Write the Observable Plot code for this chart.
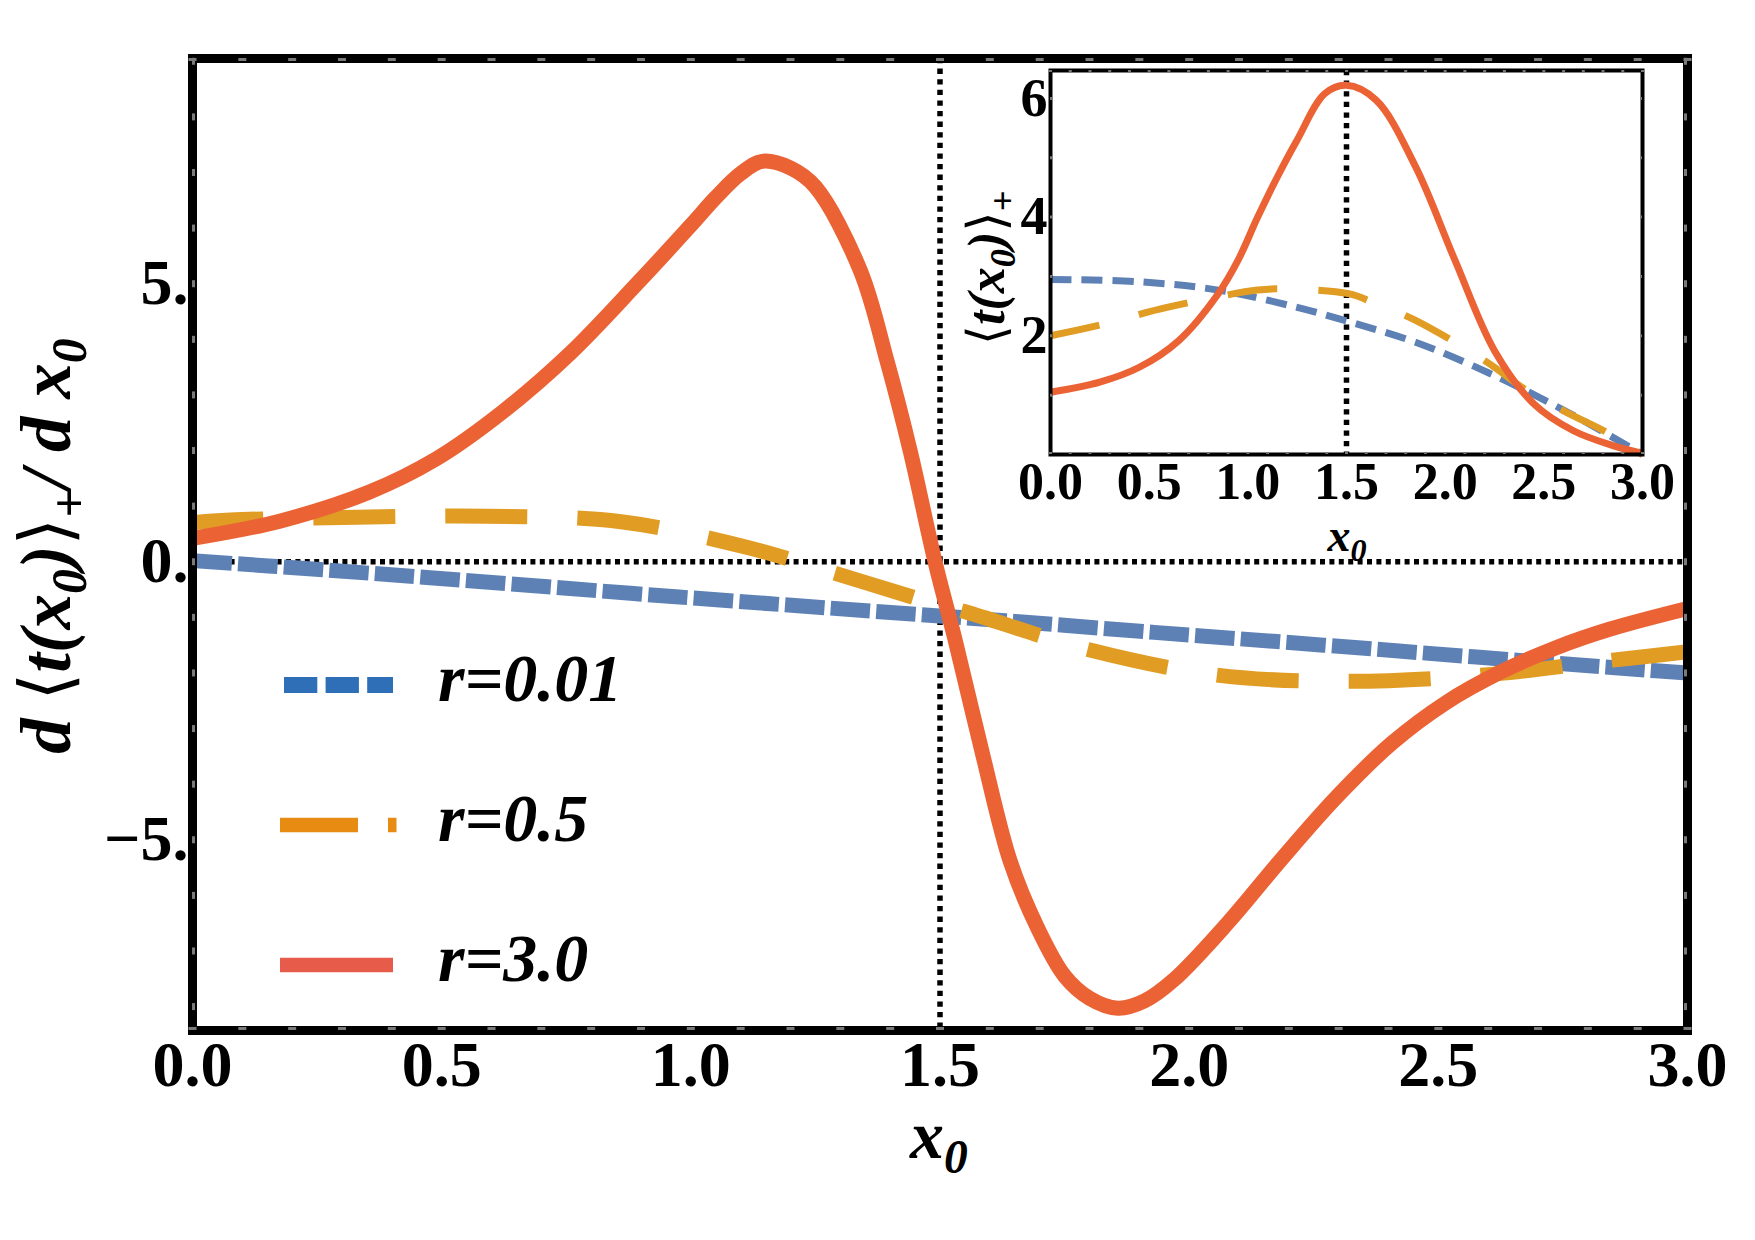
<!DOCTYPE html>
<html>
<head>
<meta charset="utf-8">
<script src="https://cdn.jsdelivr.net/npm/d3@7"></script>
<script src="https://cdn.jsdelivr.net/npm/@observablehq/plot@0.6"></script>
<style>
  html, body { margin: 0; padding: 0; background: #fff; }
  #wrap { position: relative; width: 1755px; height: 1240px; overflow: hidden; }
  #wrap svg { position: absolute; overflow: visible; }
</style>
</head>
<body>
<div id="wrap"></div>
<script>
// ---------- DATA ----------
const seriesNames = ["r=0.01", "r=0.5", "r=3.0"];
const xTicks = [0, 0.5, 1, 1.5, 2, 2.5, 3];
const yTicks = [-5, 0, 5];
const insetYTicks = [2, 4, 6];
const markerX = [1.5];
const zeroY = [0];

// main panel: d<t(x0)>+/dx0
const mainBlueX = [0, 0.27, 0.54, 0.97, 1.46, 1.63, 1.93, 2.27, 2.57, 2.92, 3.0];
const mainBlueY = [0.02, -0.15, -0.33, -0.63, -0.95, -1.06, -1.27, -1.50, -1.71, -1.95, -2.0];

const mainOrangeX = [0, 0.076, 0.33, 0.59, 0.86, 1.116, 1.29, 1.466, 1.551, 1.797, 2.056, 2.322, 2.586, 2.85, 3.0];
const mainOrangeY = [0.70, 0.75, 0.80, 0.82, 0.72, 0.25, -0.21, -0.69, -0.90, -1.58, -2.04, -2.15, -2.04, -1.77, -1.62];

const mainRedX = [0, 0.175, 0.354, 0.489, 0.623, 0.758, 0.892, 1.0, 1.05, 1.10, 1.143, 1.20, 1.25, 1.34, 1.394, 1.44, 1.49,
  1.531, 1.586, 1.641, 1.695, 1.75, 1.80, 1.857, 1.91, 1.969, 2.078, 2.188, 2.297, 2.407, 2.516, 2.626, 2.735, 2.845, 3.0];
const mainRedY = [0.42, 0.73, 1.25, 1.85, 2.70, 3.75, 5.00, 6.05, 6.55, 6.98, 7.20, 7.08, 6.74, 5.24, 3.60, 2.00, 0.0,
  -1.43, -3.48, -5.39, -6.57, -7.45, -7.85, -8.03, -7.90, -7.52, -6.49, -5.32, -4.22, -3.26, -2.53, -1.98, -1.55, -1.21, -0.84];

// inset: <t(x0)>+
const insetBlueX = [0, 0.45, 0.85, 1.25, 1.50, 1.85, 2.25, 2.65, 3.0];
const insetBlueY = [2.95, 2.91, 2.77, 2.48, 2.25, 1.89, 1.33, 0.66, 0.0];

const insetOrangeX = [0, 0.25, 0.59, 1.05, 1.18, 1.51, 1.65, 1.85, 2.21, 2.39, 2.615, 2.815, 3.0];
const insetOrangeY = [2.0, 2.18, 2.48, 2.77, 2.79, 2.71, 2.54, 2.26, 1.56, 1.13, 0.71, 0.38, 0.0];

const insetRedX = [0, 0.25, 0.45, 0.65, 0.85, 0.95, 1.05, 1.15, 1.25, 1.39, 1.50, 1.65, 1.85, 2.05, 2.25, 2.45, 2.65, 2.85, 3.0];
const insetRedY = [1.05, 1.22, 1.47, 1.92, 2.71, 3.27, 4.0, 4.68, 5.3, 6.08, 6.22, 5.97, 4.85, 3.27, 1.75, 0.85, 0.40, 0.15, 0.02];

// ---------- STYLE ----------
const lineColors = ["#5E81B5", "#E19C24", "#EB6235"];
const legendColors = ["#2F6FB7", "#E88B12", "#E65B4A"];
const FONT = "Liberation Serif, Times New Roman, serif";
const BRACKET_FONT = "DejaVu Serif, DejaVu Sans, serif";

const rows = (xs, ys) => xs.map((x, i) => ({x, y: ys[i]}));

const W = 1755, H = 1240;
const mL = 192, mR = 68, mT = 58, mB = 210;
const innerW = W - mL - mR, innerH = H - mT - mB;

const xMinor = d3.range(0, 3.0001, 0.1).map(d => +d.toFixed(2));
const yMinor = d3.range(-8, 9.0001, 1);

const lineOpts = {x: "x", y: "y", curve: "catmull-rom", strokeLinecap: "butt", strokeLinejoin: "round"};

const mainPlot = Plot.plot({
  width: W, height: H,
  marginLeft: mL, marginRight: mR, marginTop: mT, marginBottom: mB,
  x: {domain: [0, 3]},
  y: {domain: [-8.43, 9.05]},
  style: {background: "transparent", fontFamily: FONT, color: "black"},
  marks: [
    Plot.ruleY(zeroY, {stroke: "black", strokeWidth: 5.5, strokeDasharray: "5,4.4"}),
    Plot.ruleX(markerX, {stroke: "black", strokeWidth: 5.5, strokeDasharray: "5.3,5.3"}),
    Plot.line(rows(mainBlueX, mainBlueY), {...lineOpts, stroke: lineColors[0], strokeWidth: 15, strokeDasharray: "39.5,6.2"}),
    Plot.line(rows(mainOrangeX, mainOrangeY), {...lineOpts, stroke: lineColors[1], strokeWidth: 15, strokeDasharray: "82,50", strokeDashoffset: 11}),
    Plot.line(rows(mainRedX, mainRedY), {...lineOpts, stroke: lineColors[2], strokeWidth: 15}),
    Plot.frame({stroke: "black", strokeWidth: 9}),
    // frame ticks (gray, inside the thick frame)
    Plot.ruleX(xMinor, {stroke: "#7a7a7a", strokeWidth: 8, insetTop: innerH - 3}),
    Plot.ruleX(xMinor, {stroke: "#7a7a7a", strokeWidth: 8, insetBottom: innerH - 3}),
    Plot.ruleY(yMinor, {stroke: "#7a7a7a", strokeWidth: 7, insetRight: innerW - 3}),
    Plot.ruleY(yMinor, {stroke: "#7a7a7a", strokeWidth: 7, insetLeft: innerW - 3}),
    Plot.axisX(xTicks, {anchor: "bottom", tickSize: 0, tickPadding: 10, tickFormat: d3.format(".1f"),
      fontSize: 64, fontWeight: "bold", fontFamily: FONT, fill: "black", label: null}),
    Plot.axisY(yTicks, {anchor: "left", tickSize: 0, tickPadding: 4,
      tickFormat: d => (d < 0 ? "\u2212" : "") + Math.abs(d) + ".",
      fontSize: 64, fontWeight: "bold", fontFamily: FONT, fill: "black", label: null})
  ]
});

// inset
const IL = 930, IT = 40, IW = 780, IH = 540;
const imL = 120, imR = 68, imT = 30, imB = 126;
const iInnerW = IW - imL - imR, iInnerH = IH - imT - imB;
const yInsetMinor = [1, 2, 3, 4, 5, 6];

const insetPlot = Plot.plot({
  width: IW, height: IH,
  marginLeft: imL, marginRight: imR, marginTop: imT, marginBottom: imB,
  x: {domain: [0, 3]},
  y: {domain: [0, 6.47]},
  style: {background: "transparent", fontFamily: FONT, color: "black"},
  marks: [
    Plot.frame({fill: "white", stroke: "none"}),
    Plot.ruleX(markerX, {stroke: "black", strokeWidth: 5.5, strokeDasharray: "5.3,5.3"}),
    Plot.line(rows(insetBlueX, insetBlueY), {...lineOpts, stroke: lineColors[0], strokeWidth: 7, strokeDasharray: "21,10"}),
    Plot.line(rows(insetOrangeX, insetOrangeY), {...lineOpts, stroke: lineColors[1], strokeWidth: 7, strokeDasharray: "50,41"}),
    Plot.line(rows(insetRedX, insetRedY), {...lineOpts, stroke: lineColors[2], strokeWidth: 7}),
    Plot.frame({stroke: "black", strokeWidth: 4}),
    Plot.ruleX(xMinor, {stroke: "#777", strokeWidth: 3, insetTop: iInnerH - 2}),
    Plot.ruleX(xMinor, {stroke: "#777", strokeWidth: 3, insetBottom: iInnerH - 2}),
    Plot.ruleY(yInsetMinor, {stroke: "#777", strokeWidth: 3, insetRight: iInnerW - 2}),
    Plot.ruleY(yInsetMinor, {stroke: "#777", strokeWidth: 3, insetLeft: iInnerW - 2}),
    Plot.axisX(xTicks, {anchor: "bottom", tickSize: 0, tickPadding: 8, tickFormat: d3.format(".1f"),
      fontSize: 52, fontWeight: "bold", fontFamily: FONT, fill: "black", label: null}),
    Plot.axisY(insetYTicks, {anchor: "left", tickSize: 0, tickPadding: 3, tickFormat: d => String(d),
      fontSize: 54, fontWeight: "bold", fontFamily: FONT, fill: "black", label: null})
  ]
});

const wrap = document.getElementById("wrap");
mainPlot.style.left = "0px"; mainPlot.style.top = "0px";
insetPlot.style.left = IL + "px"; insetPlot.style.top = IT + "px";
wrap.appendChild(mainPlot);
wrap.appendChild(insetPlot);

// ---------- LABELS ----------
// parts: [text, isSub, isBracket]
function richText(sel, parts, size) {
  let prevSub = false;
  parts.forEach(([t, sub, br]) => {
    const ts = sel.append("tspan").text(t);
    if (sub) { ts.attr("font-size", size * 0.7).attr("dy", prevSub ? 0 : size * 0.22); }
    else if (prevSub) { ts.attr("dy", -size * 0.22); }
    if (br) { ts.attr("font-style", "normal").attr("font-family", BRACKET_FONT).attr("font-weight", "normal"); }
    prevSub = sub;
  });
}
function label(parent, attrs, parts, size) {
  const t = parent.append("text")
    .attr("text-anchor", "middle")
    .attr("font-family", FONT).attr("font-weight", "bold").attr("font-style", "italic")
    .attr("font-size", size).attr("fill", "black");
  Object.entries(attrs).forEach(([k, v]) => t.attr(k, v));
  richText(t, parts, size);
  return t;
}

const ms = d3.select(mainPlot);
label(ms, {transform: "translate(70,546) rotate(-90)"},
  [["d ", false], ["\u27E8", false, true], ["t(x", false], ["0", true], [")", false], ["\u27E9", false, true], ["+", true], ["/ d x", false], ["0", true]], 71);
label(ms, {x: 939, y: 1158}, [["x", false], ["0", true]], 68);

// legend
{
  const g = ms.append("g");
  const legendDash = ["33.3,8.3", "78,30,8.5,200", null];
  const legendWidth = [16, 14.5, 14.5];
  const legendX1 = [284, 280, 280];
  const legendX2 = [393, 397, 393];
  seriesNames.forEach((name, i) => {
    const cy = 685 + i * 140;
    const ln = g.append("line")
      .attr("x1", legendX1[i]).attr("x2", legendX2[i])
      .attr("y1", cy).attr("y2", cy)
      .attr("stroke", legendColors[i]).attr("stroke-width", legendWidth[i])
      .attr("stroke-linecap", "butt");
    if (legendDash[i]) ln.attr("stroke-dasharray", legendDash[i]);
    g.append("text")
      .attr("x", 438).attr("y", cy + 16)
      .attr("text-anchor", "start")
      .attr("font-family", FONT).attr("font-weight", "bold").attr("font-style", "italic")
      .attr("font-size", 68).attr("fill", "black")
      .text(name);
  });
}

const is = d3.select(insetPlot);
label(is, {x: 417, y: 511}, [["x", false], ["0", true]], 46);
label(is, {transform: "translate(74,228) rotate(-90)"},
  [["\u27E8", false, true], ["t(x", false], ["0", true], [")", false], ["\u27E9", false, true], ["+", true]], 52);
</script>
</body>
</html>
